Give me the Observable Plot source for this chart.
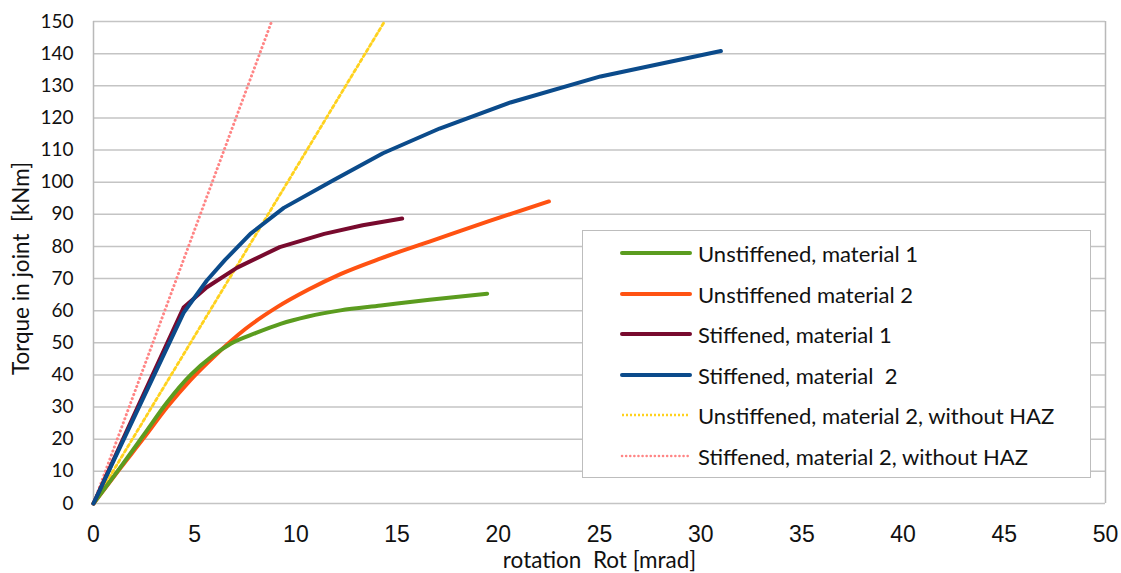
<!DOCTYPE html>
<html>
<head>
<meta charset="utf-8">
<script src="https://cdn.jsdelivr.net/npm/d3@7"></script>
<script src="https://cdn.jsdelivr.net/npm/@observablehq/plot@0.6"></script>
<style>
  html, body { margin: 0; padding: 0; background: #fff; }
  #wrap { position: relative; width: 1121px; height: 573px; }
  #wrap svg text { white-space: pre; }
  .legend {
    position: absolute; left: 582px; top: 230px; width: 507px; height: 246px;
    border: 1.5px solid #bdbdbd; background: #fff; box-sizing: content-box;
    font-family: Lato, "Open Sans", sans-serif; font-size: 22px; color: #111;
  }
  .legend .row { position: absolute; left: 0; height: 26px; display: flex; align-items: center; white-space: pre; }
  .legend svg { margin-left: 37px; margin-right: 6px; }
</style>
</head>
<body>
<div id="wrap"></div>
<script>
// Rotation [mrad] and joint torque [kNm] for each tested configuration
const rotUnstiffM1 = [0, 1.3, 2.5, 3.64, 4.8, 5.9, 6.8, 8.0, 9.24, 10.6, 12.2, 14.2, 16.6, 19.45];
const torUnstiffM1 = [0, 11.0, 21.5, 31.5, 40.0, 46.0, 49.8, 53.0, 55.9, 58.2, 60.1, 61.6, 63.4, 65.3];

const rotUnstiffM2 = [0, 1.3, 2.5, 3.64, 4.8, 6.0, 7.5, 9.07, 10.6, 12.2, 14.2, 16.6, 19.5, 22.5];
const torUnstiffM2 = [0, 10.8, 20.5, 30.0, 38.5, 46.0, 54.3, 61.1, 66.5, 71.4, 76.3, 81.5, 87.8, 94.0];

const rotStiffM1 = [0, 2.2, 4.45, 5.6, 7.1, 9.2, 11.4, 13.3, 15.25];
const torStiffM1 = [0, 30.2, 61.0, 67.3, 73.4, 79.8, 83.9, 86.6, 88.7];

const rotStiffM2 = [0, 2.2, 4.45, 5.6, 6.5, 7.75, 9.4, 11.85, 14.3, 17.1, 20.6, 25.05, 31.0];
const torStiffM2 = [0, 29.4, 59.3, 69.4, 75.8, 83.9, 92.0, 100.6, 109.0, 116.7, 124.8, 132.9, 140.8];

// Linear-elastic references (no heat-affected zone), clipped at the top of the axis
const rotUnstiffNoHaz = [0, 14.38];
const torUnstiffNoHaz = [0, 150];
const rotStiffNoHaz = [0, 8.8];
const torStiffNoHaz = [0, 150];

const seriesNames = [
  "Unstiffened, material 1",
  "Unstiffened material 2",
  "Stiffened, material 1",
  "Stiffened, material  2",
  "Unstiffened, material 2, without HAZ",
  "Stiffened, material 2, without HAZ"
];
const seriesColors = ["#5b9c1f", "#ff5212", "#780a2e", "#0b4b8b", "#ffd21e", "#ff8585"];

const xTicks = d3.range(0, 51, 5);
const yTicks = d3.range(0, 151, 10);

const toRows = (xs, ys) => xs.map((r, i) => ({rot: r, torque: ys[i]}));
const data = [
  toRows(rotUnstiffM1, torUnstiffM1),
  toRows(rotUnstiffM2, torUnstiffM2),
  toRows(rotStiffM1, torStiffM1),
  toRows(rotStiffM2, torStiffM2),
  toRows(rotUnstiffNoHaz, torUnstiffNoHaz),
  toRows(rotStiffNoHaz, torStiffNoHaz)
];

const solid = (i, curve) => Plot.line(data[i], {
  x: "rot", y: "torque", stroke: seriesColors[i], strokeWidth: 4,
  curve, strokeLinecap: "round", strokeLinejoin: "round"
});

const chart = Plot.plot({
  width: 1121,
  height: 573,
  marginLeft: 93,
  marginRight: 16,
  marginTop: 21,
  marginBottom: 70,
  x: {domain: [0, 50]},
  y: {domain: [0, 150]},
  style: {background: "#fff", color: "#000", overflow: "visible"},
  marks: [
    Plot.gridY(yTicks, {stroke: "#c4c4c4", strokeOpacity: 1, strokeWidth: 1.5}),
    Plot.ruleX([0, 50], {stroke: "#b9b9b9", strokeWidth: 1.5}),
    Plot.axisY(yTicks, {tickSize: 0, tickPadding: 20, fontSize: 19, fontFamily: "Lato, sans-serif", fill: "#111", label: null}),
    Plot.axisX(xTicks, {tickSize: 0, tickPadding: 22, fontSize: 23, fontFamily: "'Liberation Sans Narrow', 'Liberation Sans', sans-serif", fill: "#111", label: null}),
    Plot.line(data[5], {x: "rot", y: "torque", stroke: seriesColors[5], strokeWidth: 3, strokeDasharray: "0.1,4.2", strokeLinecap: "round"}),
    Plot.line(data[4], {x: "rot", y: "torque", stroke: seriesColors[4], strokeWidth: 2.8, strokeDasharray: "3,3"}),
    solid(1, "monotone-x"),
    solid(0, "monotone-x"),
    solid(2, "linear"),
    solid(3, "linear"),
    Plot.text(["Torque in joint  [kNm]"], {frameAnchor: "left", textAnchor: "middle", lineAnchor: "middle", dx: -72, dy: 6, rotate: -90, fontSize: 22.5, fontFamily: "Lato, sans-serif", fill: "#111"}),
    Plot.text(["rotation  Rot [mrad]"], {frameAnchor: "bottom", lineAnchor: "middle", dy: 57, fontSize: 22.5, fontFamily: "Lato, sans-serif", fill: "#111"})
  ]
});

const wrap = document.getElementById("wrap");
wrap.appendChild(chart);

// Legend inside the plot area
const legend = document.createElement("div");
legend.className = "legend";
const rowTops = [9, 50, 90, 131, 171, 212];
seriesNames.forEach((name, i) => {
  const row = document.createElement("div");
  row.className = "row";
  row.style.top = rowTops[i] + "px";
  const dash = i === 4 ? 'stroke-dasharray="2,2"' : i === 5 ? 'stroke-dasharray="0.1,4" stroke-linecap="round"' : 'stroke-linecap="round"';
  const w = i >= 4 ? 2.5 : 4;
  row.innerHTML = `<svg width="72" height="10"><line x1="2" y1="5" x2="70" y2="5" stroke="${seriesColors[i]}" stroke-width="${w}" ${dash}/></svg><span>${name}</span>`;
  legend.appendChild(row);
});
wrap.appendChild(legend);
</script>
</body>
</html>
